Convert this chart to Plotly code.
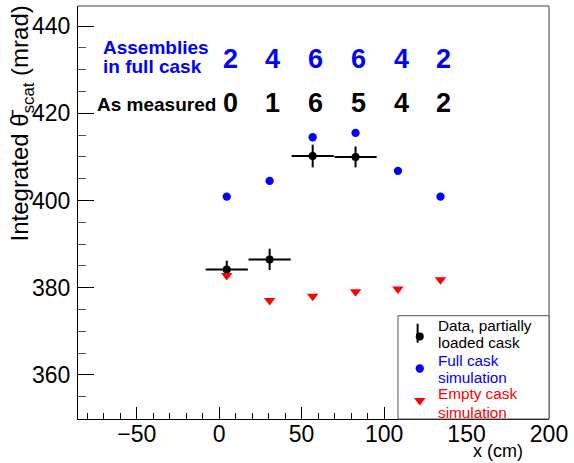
import plotly.graph_objects as go

# ---- data ----
x_pos = [4.6, 30.6, 56.7, 82.7, 108.4, 134.2]

data_x = [4.6, 30.6, 56.7, 82.7]
data_y = [384.2, 386.5, 410.2, 410.0]
data_xerr = [12.8, 12.8, 12.8, 12.8]
data_yerr = [2.0, 2.45, 2.6, 2.4]

full_y = [400.9, 404.5, 414.5, 415.5, 406.8, 400.9]
empty_y = [382.8, 377.1, 378.05, 379.1, 379.7, 381.85]

full_counts = ["2", "4", "6", "6", "4", "2"]
measured_counts = ["0", "1", "6", "5", "4", "2"]

legend_lines = [
    ("Data, partially", "loaded cask"),
    ("Full cask", "simulation"),
    ("Empty cask", "simulation"),
]

FONT = "Liberation Sans, Arial, Helvetica, sans-serif"
BLUE = "#0000ff"
RED = "#ff0000"
legend_colors = ["black", BLUE, RED]

W, H = 574, 463
L, R, T, B = 78, 21, 6, 44
PW, PH = W - L - R, H - T - B


def px2paper_x(px):
    return (px - L) / PW


def px2paper_y(py):
    return (H - B - py) / PH


fig = go.Figure()

fig.add_trace(go.Scatter(
    x=data_x, y=data_y, mode="markers", name="", legendgroup="a",
    marker=dict(symbol="circle", size=8, color="black"),
    error_x=dict(type="data", array=data_xerr, color="black", thickness=2, width=0),
    error_y=dict(type="data", array=data_yerr, color="black", thickness=2, width=0),
))
fig.add_trace(go.Scatter(
    x=x_pos, y=full_y, mode="markers", name="", legendgroup="b",
    marker=dict(symbol="circle", size=8.3, color=BLUE),
))
fig.add_trace(go.Scatter(
    x=x_pos, y=empty_y, mode="markers", name="", legendgroup="c",
    marker=dict(symbol="triangle-down", size=10, color=RED),
))

annotations = []
# top count labels
for xv, t in zip(x_pos, full_counts):
    annotations.append(dict(x=xv + 2, y=432.5, xref="x", yref="y", text=f"<b>{t}</b>",
                            showarrow=False, font=dict(family=FONT, size=27, color=BLUE),
                            xanchor="center", yanchor="middle"))
for xv, t in zip(x_pos, measured_counts):
    annotations.append(dict(x=xv + 2, y=422.4, xref="x", yref="y", text=f"<b>{t}</b>",
                            showarrow=False, font=dict(family=FONT, size=27, color="black"),
                            xanchor="center", yanchor="middle"))

# legend text lines
legend_text_y = [(325, 342), (360, 376.5), (393, 412)]
for (l1, l2), (y1, y2), col in zip(legend_lines, legend_text_y, legend_colors):
    for txt, yy in ((l1, y1), (l2, y2)):
        annotations.append(dict(x=px2paper_x(439), y=px2paper_y(yy + 0.5), xref="paper", yref="paper",
                                text=txt, showarrow=False, xanchor="left", yanchor="middle",
                                font=dict(family=FONT, size=15.3, color=col)))

annotations += [
    dict(x=px2paper_x(101), y=px2paper_y(47.5), xref="paper", yref="paper",
         text="<b>Assemblies</b>", showarrow=False, xanchor="left", yanchor="middle",
         font=dict(family=FONT, size=19, color=BLUE)),
    dict(x=px2paper_x(101), y=px2paper_y(66.5), xref="paper", yref="paper",
         text="<b>in full cask</b>", showarrow=False, xanchor="left", yanchor="middle",
         font=dict(family=FONT, size=19, color=BLUE)),
    dict(x=px2paper_x(95), y=px2paper_y(104.5), xref="paper", yref="paper",
         text="<b>As measured</b>", showarrow=False, xanchor="left", yanchor="middle",
         font=dict(family=FONT, size=19, color="black")),
    dict(x=px2paper_x(529), y=px2paper_y(463), xref="paper", yref="paper",
         text="x (cm)", showarrow=False, xanchor="right", yanchor="bottom",
         font=dict(family=FONT, size=18, color="black")),
    dict(x=px2paper_x(22), y=px2paper_y(3), xref="paper", yref="paper",
         text="Integrated \u03b8\u0304<sub>scat</sub> (mrad)", textangle=-90,
         showarrow=False, xanchor="center", yanchor="top",
         font=dict(family=FONT, size=24, color="black")),
]

shapes = [
    # frame top and right (grey)
    dict(type="line", xref="paper", yref="paper", x0=0, x1=1, y0=1, y1=1,
         line=dict(color="#808080", width=1.5)),
    dict(type="line", xref="paper", yref="paper", x0=1, x1=1, y0=0, y1=1,
         line=dict(color="#808080", width=1.5)),
    # legend box
    dict(type="rect", xref="paper", yref="paper", layer="above",
         x0=px2paper_x(400.7), x1=1, y0=0, y1=px2paper_y(315.7),
         fillcolor="white", line=dict(color="#555555", width=1)),
    # vertical error stroke of the data legend key
    dict(type="line", xref="paper", yref="paper", layer="above",
         x0=px2paper_x(420.5), x1=px2paper_x(420.5), y0=px2paper_y(323.7), y1=px2paper_y(342.7),
         line=dict(color="black", width=2)),
]

fig.update_layout(
    width=W, height=H,
    margin=dict(l=L, r=R, t=T, b=B, pad=0),
    paper_bgcolor="white", plot_bgcolor="white",
    font=dict(family=FONT, color="black"),
    showlegend=True,
    legend=dict(x=px2paper_x(402.5), y=px2paper_y(322), xanchor="left", yanchor="top",
                bgcolor="rgba(0,0,0,0)", borderwidth=0, tracegroupgap=13,
                font=dict(family=FONT, size=10, color="black")),
    annotations=annotations,
    shapes=shapes,
)

fig.update_xaxes(
    range=[-85.6, 200.0], showgrid=False, zeroline=False,
    showline=True, linecolor="black", linewidth=1, mirror=False,
    ticks="inside", ticklen=12, tickcolor="black", tickwidth=1,
    tick0=0, dtick=50, ticklabelstandoff=-6,
    tickfont=dict(family=FONT, size=23, color="black"),
    minor=dict(ticks="inside", ticklen=6, dtick=10, tick0=0, tickcolor="black", tickwidth=1),
)
fig.update_yaxes(
    range=[349.9, 444.6], showgrid=False, zeroline=False,
    showline=True, linecolor="black", linewidth=1, mirror=False,
    ticks="inside", ticklen=16, tickcolor="black", tickwidth=1,
    tick0=0, dtick=20, ticklabelstandoff=2,
    tickfont=dict(family=FONT, size=23, color="black"),
    minor=dict(ticks="inside", ticklen=8, dtick=5, tick0=0, tickcolor="#555555", tickwidth=1),
)

fig.write_html("out.html", config={"displayModeBar": False},
               post_script="document.body.style.margin='0';document.body.style.overflow='hidden';")
